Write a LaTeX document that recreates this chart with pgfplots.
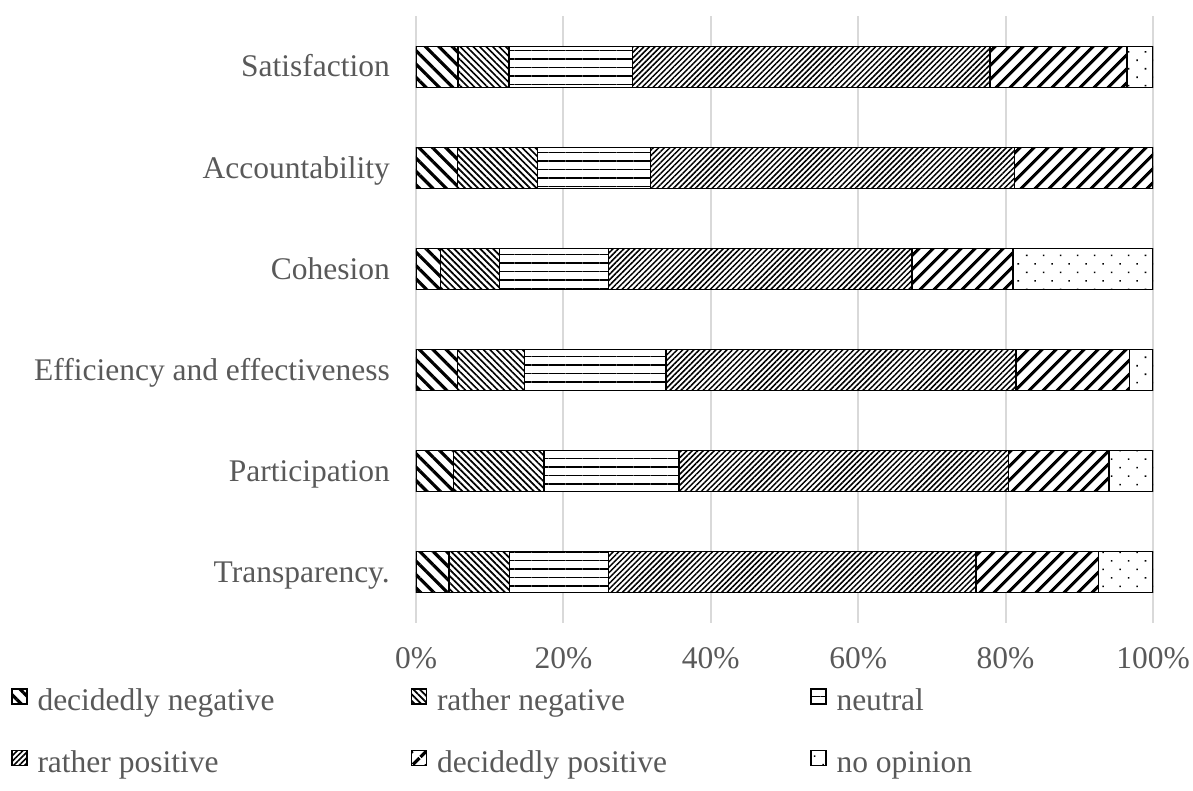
\documentclass[border=0pt]{standalone}
\usepackage{fontspec}
\setmainfont{Liberation Serif}
\usepackage{pgfplots}
\pgfplotsset{compat=1.18}
\usetikzlibrary{patterns.meta}
\definecolor{txt}{HTML}{595959}
\definecolor{gridc}{HTML}{D9D9D9}
\begin{document}
\fontsize{31.5}{38}\selectfont
\begin{tikzpicture}
\useasboundingbox (-416pt,-167.5pt) rectangle (777pt,622.5pt);
\begin{axis}[
  at={(0pt,0pt)}, anchor=south west,
  scale only axis, width=737pt, height=606pt,
  xbar stacked, bar width=41pt,
  xmin=0, xmax=100, ymin=-0.5, ymax=5.5,
  xtick={0,20,40,60,80,100},
  xticklabels={0\%,20\%,40\%,60\%,80\%,100\%},
  ytick={0,1,2,3,4,5},
  yticklabels={Transparency.,Participation,Efficiency and effectiveness,Cohesion,Accountability,Satisfaction},
  axis line style={draw=none},
  major tick length=0pt,
  xmajorgrids, ymajorgrids=false,
  major grid style={draw=gridc, line width=2pt},
  ticklabel style={font=\fontsize{31.5}{38}\selectfont, text=txt, inner sep=0pt},
  xticklabel style={anchor=base, yshift=-46pt},
  yticklabel style={anchor=base east, xshift=-26pt, yshift=-10pt},
  legend columns=3,
  legend style={draw=none, fill=none, inner sep=0pt, outer sep=0pt,
    at={(axis description cs:-0.5495,-0.1081)}, anchor=north west,
    font=\fontsize{31.5}{38}\selectfont, text=txt,
    nodes={inner sep=0pt, text height=21pt, text depth=7pt},
    row sep=32pt,
    /tikz/every odd column/.style={column sep=10pt},
    /tikz/every even column/.style={column sep=0pt}},
  legend image code/.code={\draw[#1] (0pt,0pt) rectangle (15pt,15pt);},
  every axis plot/.append style={draw=black, line width=1.5pt, fill=white},
]
\addplot[postaction={pattern={Lines[angle=-45,distance=9.5pt,line width=3.2pt]}}] coordinates {(4.5,0) (5.1,1) (5.6,2) (3.3,3) (5.6,4) (5.7,5)};
\addlegendentry{\makebox[373pt][l]{decidedly negative}}
\addplot[postaction={pattern={Lines[angle=-45,distance=4.6pt,line width=1.7pt]}}] coordinates {(8.2,0) (12.3,1) (9.1,2) (8.0,3) (10.9,4) (6.9,5)};
\addlegendentry{\makebox[373pt][l]{rather negative}}
\addplot[postaction={pattern={Lines[angle=0,distance=8.5pt,line width=1.6pt]}}] coordinates {(13.4,0) (18.3,1) (19.2,2) (14.8,3) (15.3,4) (16.8,5)};
\addlegendentry{\makebox[373pt][l]{neutral}}
\addplot[postaction={pattern={Lines[angle=45,distance=3.9pt,line width=1.5pt]}}] coordinates {(49.9,0) (44.7,1) (47.5,2) (41.2,3) (49.4,4) (48.5,5)};
\addlegendentry{\makebox[373pt][l]{rather positive}}
\addplot[postaction={pattern={Lines[angle=45,distance=10.5pt,line width=3.5pt]}}] coordinates {(16.6,0) (13.6,1) (15.4,2) (13.7,3) (18.8,4) (18.6,5)};
\addlegendentry{\makebox[373pt][l]{decidedly positive}}
\addplot[postaction={pattern={Dots[angle=45,distance=12pt,radius=1.1pt]}}] coordinates {(7.4,0) (6.0,1) (3.2,2) (19.0,3) (0,4) (3.5,5)};
\addlegendentry{\makebox[373pt][l]{no opinion}}
\end{axis}
\end{tikzpicture}
\end{document}
